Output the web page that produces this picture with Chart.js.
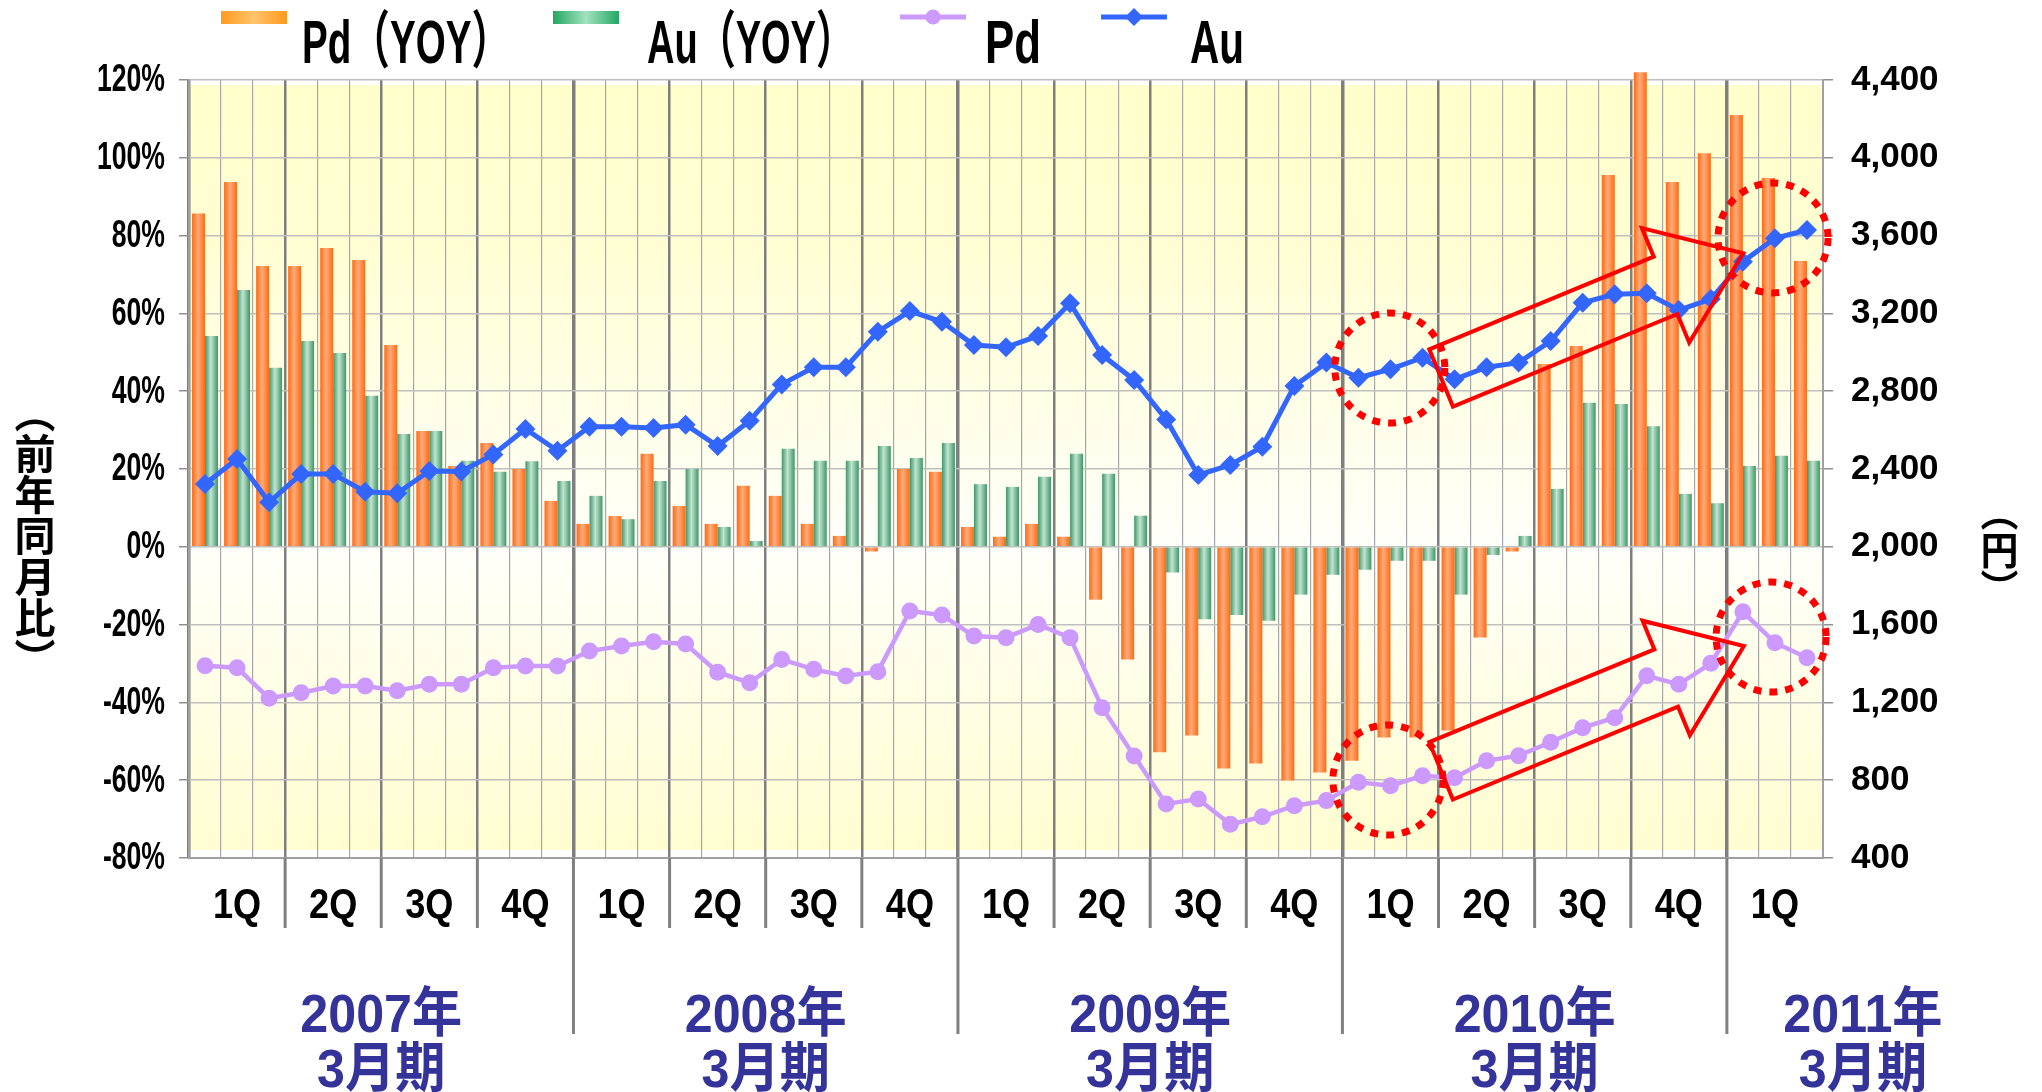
<!DOCTYPE html>
<html lang="ja">
<head>
<meta charset="utf-8">
<title>Pd / Au 価格と前年同月比</title>
<script src="https://cdn.jsdelivr.net/npm/chart.js@4.4.1/dist/chart.umd.min.js"></script>
<style>
    html, body { margin: 0; padding: 0; background: #fff; }
    #wrap { position: relative; width: 2042px; height: 1092px; }
    .vtitle {
        position: absolute;
        writing-mode: vertical-rl;
        font-family: "Noto Sans CJK JP", sans-serif;
        font-weight: bold;
        line-height: 1;
        color: #000;
    }
    #leftTitle { left: 14px; top: 392px; font-size: 41px; }
    #rightTitle { left: 1980px; top: 493px; font-size: 38px; }
</style>
</head>
<body>
<div id="wrap">
    <canvas id="priceChart"></canvas>
    <div id="leftTitle" class="vtitle">（前年同月比）</div>
    <div id="rightTitle" class="vtitle">（円）</div>
</div>
<script>
// Monthly data, Apr 2006 - Jun 2010
const months = [
    '2006-04', '2006-05', '2006-06', '2006-07', '2006-08', '2006-09', '2006-10', '2006-11', '2006-12',
    '2007-01', '2007-02', '2007-03', '2007-04', '2007-05', '2007-06', '2007-07', '2007-08', '2007-09',
    '2007-10', '2007-11', '2007-12', '2008-01', '2008-02', '2008-03', '2008-04', '2008-05', '2008-06',
    '2008-07', '2008-08', '2008-09', '2008-10', '2008-11', '2008-12', '2009-01', '2009-02', '2009-03',
    '2009-04', '2009-05', '2009-06', '2009-07', '2009-08', '2009-09', '2009-10', '2009-11', '2009-12',
    '2010-01', '2010-02', '2010-03', '2010-04', '2010-05', '2010-06'
];
const quarterLabels = ['1Q', '2Q', '3Q', '4Q', '1Q', '2Q', '3Q', '4Q', '1Q', '2Q', '3Q', '4Q',
    '1Q', '2Q', '3Q', '4Q', '1Q'];
const fiscalYearLabels = ['2007年', '2008年', '2009年', '2010年', '2011年'];
const fiscalTermLabel = '3月期';

// YOY in %
const pdYoy = [
    85.7, 93.8, 72.2, 72.2, 76.8, 73.7, 51.9, 29.8, 20.8, 26.7, 20.0, 11.8,
    5.9, 7.9, 23.9, 10.5, 5.9, 15.7, 13.1, 5.9, 2.8, -1.2, 20.0, 19.3,
    5.1, 2.6, 5.9, 2.6, -13.6, -29.0, -52.8, -48.5, -57.0, -55.7, -60.1, -58.0,
    -55.0, -49.0, -49.0, -47.2, -23.3, -1.2, 47.0, 51.6, 95.6, 122.0, 93.8, 101.2,
    111.0, 94.8, 73.5
];
const auYoy = [
    54.2, 66.0, 46.0, 52.9, 49.8, 38.8, 29.0, 29.8, 22.1, 19.3, 22.0, 16.9,
    13.1, 7.1, 16.9, 20.0, 5.1, 1.5, 25.2, 22.1, 22.1, 25.9, 22.8, 26.7,
    16.1, 15.4, 18.0, 23.9, 18.8, 8.0, -6.6, -18.6, -17.5, -19.0, -12.3, -7.2,
    -5.9, -3.6, -3.6, -12.3, -2.1, 2.8, 14.9, 37.0, 36.7, 31.0, 13.6, 11.2,
    20.8, 23.4, 22.1
];
// prices in yen per gram
const pdPrice = [
    1389, 1378, 1221, 1250, 1284, 1284, 1260, 1293, 1293, 1378, 1387, 1387,
    1464, 1490, 1512, 1500, 1355, 1301, 1421, 1370, 1336, 1358, 1670, 1649,
    1541, 1533, 1601, 1533, 1173, 924, 678, 703, 573, 612, 669, 695,
    789, 772, 823, 813, 900, 926, 995, 1070, 1121, 1337, 1293, 1401,
    1666, 1507, 1430
];
const auPrice = [
    2323, 2451, 2229, 2374, 2374, 2283, 2275, 2390, 2387, 2475, 2606, 2494,
    2617, 2617, 2611, 2628, 2518, 2648, 2835, 2923, 2923, 3106, 3212, 3157,
    3037, 3026, 3084, 3252, 2986, 2858, 2655, 2369, 2421, 2515, 2827, 2947,
    2869, 2913, 2972, 2861, 2923, 2947, 3058, 3255, 3298, 3303, 3217, 3274,
    3466, 3586, 3629
];

// Highlight marks (month index, yen on the right axis)
const circleMarks = [
    { month: 36.98, yen: 2919 },
    { month: 36.92, yen: 801 },
    { month: 48.94, yen: 3588 },
    { month: 48.88, yen: 1536 }
];
const trendArrows = [
    { from: [38.58, 2868], to: [48.01, 3509] },
    { from: [38.58, 848], to: [48.03, 1490] }
];

const CATEGORY_PCT = 0.81;
const ORANGE = ['#ff6a12', '#ffac7c', '#ff6a12'];
const GREEN = ['#3b9868', '#c4e4d1', '#3b9868'];
const FONT = '"Liberation Sans", "Noto Sans CJK JP", sans-serif';

function barFill(stops, slot) {
    return context => {
        const chart = context.chart;
        const xs = chart.scales.x;
        if (!chart.chartArea || !xs || context.dataIndex === undefined) return stops[1];
        const center = xs.getPixelForValue(context.dataIndex);
        if (!isFinite(center)) return stops[1];
        const group = (xs.width / months.length) * CATEGORY_PCT;
        const left = center - group / 2 + slot * group / 2;
        const g = chart.ctx.createLinearGradient(left, 0, left + group / 2, 0);
        g.addColorStop(0, stops[0]);
        g.addColorStop(0.45, stops[1]);
        g.addColorStop(1, stops[2]);
        return g;
    };
}

// draw text squeezed horizontally (the original uses a condensed face)
function squeezeText(ctx, text, x, y, squeeze) {
    const w = ctx.measureText(text).width;
    ctx.fillText(text, x, y, w * squeeze);
}

// yellow-white-yellow plot background
const plotBackground = {
    id: 'plotBackground',
    beforeDraw(chart) {
        const { ctx, chartArea: a } = chart;
        const g = ctx.createLinearGradient(0, a.top, 0, a.bottom);
        g.addColorStop(0, '#ffffcc');
        g.addColorStop(0.2, '#fffed2');
        g.addColorStop(0.6, '#fffffa');
        g.addColorStop(1, '#fffdcf');
        ctx.save();
        ctx.fillStyle = g;
        ctx.fillRect(a.left, a.top + 5, a.right - a.left, a.bottom - a.top - 13);
        ctx.restore();
    }
};

// red dotted circles and outlined trend arrows
const annotations = {
    id: 'annotations',
    afterDatasetsDraw(chart) {
        const { ctx, scales: { x, y2 } } = chart;
        ctx.save();
        ctx.strokeStyle = '#ff0000';
        ctx.lineWidth = 7;
        ctx.setLineDash([8, 8]);
        circleMarks.forEach(c => {
            ctx.beginPath();
            ctx.arc(x.getPixelForValue(c.month), y2.getPixelForValue(c.yen), 55, 0, Math.PI * 2);
            ctx.stroke();
        });

        ctx.setLineDash([]);
        ctx.lineWidth = 4;
        ctx.lineJoin = 'miter';
        const shaft = 31, headLen = 84, headHalf = 62;
        trendArrows.forEach(a => {
            const x0 = x.getPixelForValue(a.from[0]), y0 = y2.getPixelForValue(a.from[1]);
            const x1 = x.getPixelForValue(a.to[0]), y1 = y2.getPixelForValue(a.to[1]);
            const len = Math.hypot(x1 - x0, y1 - y0);
            const ux = (x1 - x0) / len, uy = (y1 - y0) / len;
            const nx = -uy, ny = ux;
            const bx = x1 - ux * headLen, by = y1 - uy * headLen;
            ctx.beginPath();
            ctx.moveTo(x0 + nx * shaft, y0 + ny * shaft);
            ctx.lineTo(bx + nx * shaft, by + ny * shaft);
            ctx.lineTo(bx + nx * headHalf, by + ny * headHalf);
            ctx.lineTo(x1, y1);
            ctx.lineTo(bx - nx * headHalf, by - ny * headHalf);
            ctx.lineTo(bx - nx * shaft, by - ny * shaft);
            ctx.lineTo(x0 - nx * shaft, y0 - ny * shaft);
            ctx.closePath();
            ctx.stroke();
        });
        ctx.restore();
    }
};

// left ticks, quarter / fiscal-year labels, separators below the axis, legend
const decorations = {
    id: 'decorations',
    afterDraw(chart) {
        const { ctx, chartArea: a, scales: { x, y } } = chart;
        ctx.save();

        // left axis labels
        ctx.fillStyle = '#000';
        ctx.font = 'bold 38px ' + FONT;
        ctx.textAlign = 'right';
        ctx.textBaseline = 'middle';
        y.ticks.forEach(t => squeezeText(ctx, t.label, a.left - 24, y.getPixelForValue(t.value) + 1, 0.7));

        // separators below the x axis
        ctx.strokeStyle = '#808080';
        ctx.lineWidth = 3;
        for (let i = 3; i < months.length; i += 3) {
            const px = x.getPixelForValue(i - 0.5);
            ctx.beginPath();
            ctx.moveTo(px, a.bottom);
            ctx.lineTo(px, a.bottom + (i % 12 === 0 ? 176 : 70));
            ctx.stroke();
        }

        // quarter labels
        ctx.textAlign = 'center';
        ctx.textBaseline = 'alphabetic';
        ctx.font = 'bold 42px ' + FONT;
        x.ticks.forEach((t, i) => {
            if (t.label) squeezeText(ctx, t.label, x.getPixelForValue(i), a.bottom + 60, 0.86);
        });

        // fiscal year labels
        ctx.fillStyle = '#333399';
        ctx.font = 'bold 54px ' + FONT;
        fiscalYearLabels.forEach((label, k) => {
            const first = k * 12;
            const last = Math.min(first + 11, months.length - 1);
            let cx = x.getPixelForValue((first + last) / 2);
            if (last - first < 11) cx += 88;
            squeezeText(ctx, label, cx, a.bottom + 174, 0.93);
            squeezeText(ctx, fiscalTermLabel, cx, a.bottom + 229, 0.93);
        });

        // legend
        const slots = [
            { swatch: 221, text: 302, width: 208 },
            { swatch: 553, text: 647, width: 207 },
            { swatch: 900, text: 985, width: 56 },
            { swatch: 1101, text: 1190, width: 54 }
        ];
        ctx.textAlign = 'left';
        chart.data.datasets.forEach((ds, i) => {
            const s = slots[i];
            if (ds.type === 'bar') {
                const stops = i === 0 ? ['#ff9a1e', '#ffc46a', '#ff9a1e'] : ['#22a862', '#a2e2c0', '#22a862'];
                const g = ctx.createLinearGradient(s.swatch, 0, s.swatch + 66, 0);
                g.addColorStop(0, stops[0]);
                g.addColorStop(0.5, stops[1]);
                g.addColorStop(1, stops[2]);
                ctx.fillStyle = g;
                ctx.fillRect(s.swatch, 11, 66, 13);
            } else {
                ctx.strokeStyle = ds.borderColor;
                ctx.lineWidth = 5;
                ctx.beginPath();
                ctx.moveTo(s.swatch, 17);
                ctx.lineTo(s.swatch + 66, 17);
                ctx.stroke();
                ctx.fillStyle = ds.borderColor;
                const cx = s.swatch + 33;
                ctx.beginPath();
                if (ds.pointStyle === 'rectRot') {
                    ctx.moveTo(cx - 9, 17);
                    ctx.lineTo(cx, 8);
                    ctx.lineTo(cx + 9, 17);
                    ctx.lineTo(cx, 26);
                } else {
                    ctx.arc(cx, 17, 7.5, 0, Math.PI * 2);
                }
                ctx.fill();
            }
            ctx.fillStyle = '#000';
            ctx.font = 'bold 62px ' + FONT;
            ctx.fillText(ds.label, s.text, 63, s.width);
        });

        ctx.restore();
    }
};

const ctx = document.getElementById('priceChart').getContext('2d');
const priceChart = new Chart(ctx, {
    type: 'bar',
    data: {
        labels: months,
        datasets: [
            {
                type: 'bar',
                label: 'Pd（YOY）',
                data: pdYoy,
                yAxisID: 'y',
                backgroundColor: barFill(ORANGE, 0),
                borderWidth: 0,
                categoryPercentage: CATEGORY_PCT,
                barPercentage: 1,
                clip: false,
                order: 2
            },
            {
                type: 'bar',
                label: 'Au（YOY）',
                data: auYoy,
                yAxisID: 'y',
                backgroundColor: barFill(GREEN, 1),
                borderWidth: 0,
                categoryPercentage: CATEGORY_PCT,
                barPercentage: 1,
                clip: false,
                order: 2
            },
            {
                type: 'line',
                label: 'Pd',
                data: pdPrice,
                yAxisID: 'y2',
                borderColor: '#cc99ff',
                backgroundColor: '#cc99ff',
                borderWidth: 4.5,
                pointStyle: 'circle',
                pointRadius: 8.5,
                pointBorderWidth: 0,
                tension: 0,
                order: 1
            },
            {
                type: 'line',
                label: 'Au',
                data: auPrice,
                yAxisID: 'y2',
                borderColor: '#3366ff',
                backgroundColor: '#3366ff',
                borderWidth: 5,
                pointStyle: 'rectRot',
                pointRadius: 10,
                pointBorderWidth: 0,
                tension: 0,
                order: 0
            }
        ]
    },
    options: {
        responsive: true,
        maintainAspectRatio: false,
        animation: false,
        layout: { padding: { top: 80, left: 0, right: 0, bottom: 0 } },
        plugins: {
            legend: { display: false },
            tooltip: { enabled: false }
        },
        scales: {
            x: {
                offset: true,
                grid: {
                    offset: true,
                    drawTicks: false,
                    color: c => (c.index % 3 === 0 ? '#7f7f7f' : '#a8a8a8'),
                    lineWidth: c => (c.index % 12 === 0 ? 3.5 : c.index % 3 === 0 ? 2.5 : 1.2)
                },
                border: { display: true, color: '#a0a0a0', width: 2 },
                ticks: {
                    display: false,
                    autoSkip: false,
                    callback: (value, index) => (index % 3 === 1 ? quarterLabels[(index - 1) / 3] : '')
                },
                afterFit: scale => { scale.height = 234; }
            },
            y: {
                position: 'left',
                min: -80,
                max: 120,
                ticks: {
                    stepSize: 20,
                    display: false,
                    callback: value => value + '%'
                },
                grid: { color: '#bfbfbf', lineWidth: 1.5, tickLength: 10, tickColor: '#909090' },
                border: { display: true, color: '#a0a0a0', width: 2 },
                afterFit: scale => { scale.width = 189; }
            },
            y2: {
                position: 'right',
                min: 400,
                max: 4400,
                ticks: {
                    stepSize: 400,
                    color: '#000',
                    padding: 18,
                    font: { family: FONT, size: 35, weight: 'bold' }
                },
                grid: { drawOnChartArea: false, tickLength: 10, tickColor: '#909090', lineWidth: 1.5 },
                border: { display: true, color: '#a0a0a0', width: 2 },
                afterFit: scale => { scale.width = 219; }
            }
        }
    },
    plugins: [plotBackground, annotations, decorations]
});
</script>
</body>
</html>
